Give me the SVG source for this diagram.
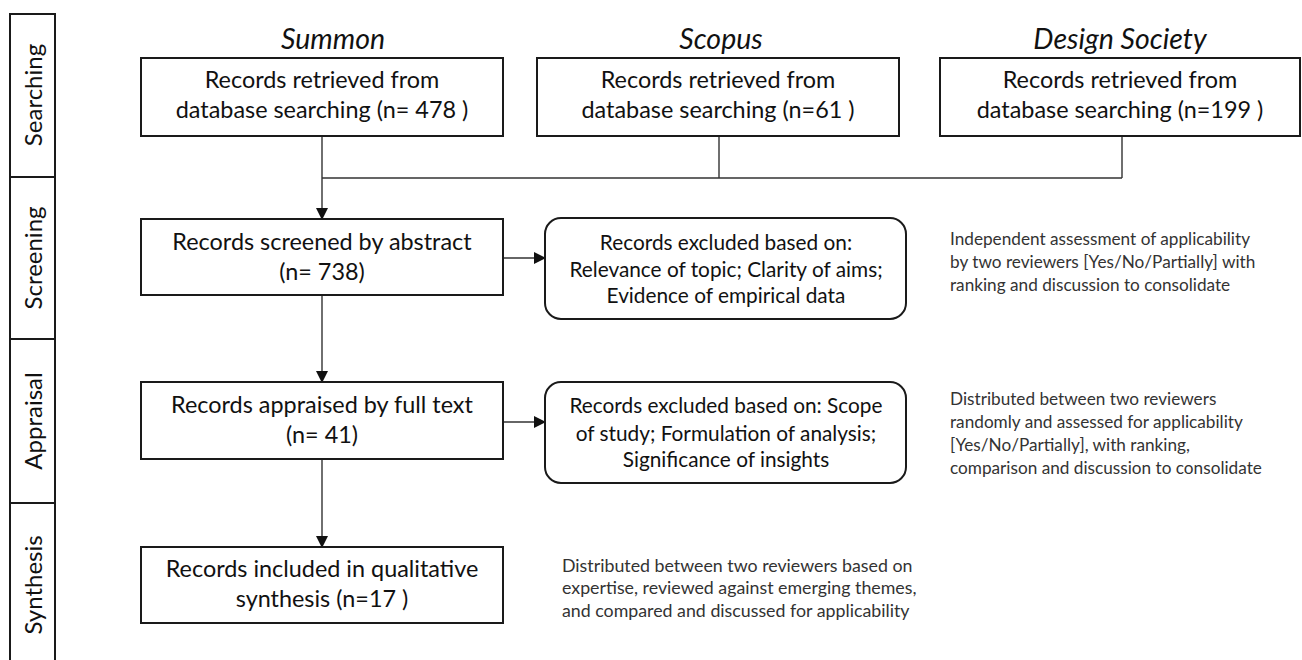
<svg xmlns="http://www.w3.org/2000/svg" width="1302" height="660" viewBox="0 0 1302 660">
<style>
  .box { fill: #fff; stroke: #1a1a1a; stroke-width: 2; }
  .main { font-family: Lato, "Liberation Sans", sans-serif; font-size: 23.4px; fill: #111; text-anchor: middle; }
  .excl { font-family: Lato, "Liberation Sans", sans-serif; font-size: 20.8px; fill: #111; text-anchor: middle; }
  .note { font-family: Lato, "Liberation Sans", sans-serif; font-size: 17.2px; fill: #333; }
  .note3 { font-family: Lato, "Liberation Sans", sans-serif; font-size: 17.8px; fill: #333; }
  .head { font-family: Lato, "Liberation Sans", sans-serif; font-size: 28.5px; font-style: italic; fill: #111; text-anchor: middle; }
  .side { font-family: Lato, "Liberation Sans", sans-serif; font-size: 24px; fill: #111; text-anchor: middle; }
  .conn { fill: none; stroke: #333; stroke-width: 1.4; }
  .lane { fill: none; stroke: #1a1a1a; stroke-width: 2; }
</style>
<defs>
  <marker id="arr" markerWidth="12" markerHeight="12" refX="11" refY="6" orient="auto" markerUnits="userSpaceOnUse">
    <path d="M0,0 L12,6 L0,12 Z" fill="#111"/>
  </marker>
</defs>
<rect width="1302" height="660" fill="#fff"/>

<g id="lanes">
  <path class="lane" d="M10,660 V14 H55 V660 M10,177 H55 M10,339 H55 M10,503 H55"/>
  <text class="side" transform="translate(42,95) rotate(-90)">Searching</text>
  <text class="side" transform="translate(42,258) rotate(-90)">Screening</text>
  <text class="side" transform="translate(42,421) rotate(-90)">Appraisal</text>
  <text class="side" transform="translate(42,585) rotate(-90)">Synthesis</text>
</g>

<g id="headers">
  <text class="head" x="333" y="49">Summon</text>
  <text class="head" x="721" y="49">Scopus</text>
  <text class="head" x="1120" y="49">Design Society</text>
</g>

<g id="connectors">
  <path class="conn" d="M322,136 V219" marker-end="url(#arr)"/>
  <path class="conn" d="M322,178 H1122 M719,136 V178 M1122,136 V178"/>
  <path class="conn" d="M322,295 V382" marker-end="url(#arr)"/>
  <path class="conn" d="M322,459 V547" marker-end="url(#arr)"/>
  <path class="conn" d="M503,258 H545" marker-end="url(#arr)"/>
  <path class="conn" d="M503,422 H545" marker-end="url(#arr)"/>
</g>

<g id="summon">
  <rect class="box" x="141" y="58" width="362" height="78"/>
  <text class="main" x="322" y="88">Records retrieved from</text>
  <text class="main" x="322" y="118">database searching (n= 478 )</text>
</g>
<g id="scopus">
  <rect class="box" x="537" y="58" width="362" height="78"/>
  <text class="main" x="718" y="88">Records retrieved from</text>
  <text class="main" x="718" y="118">database searching (n=61 )</text>
</g>
<g id="designsociety">
  <rect class="box" x="940" y="58" width="360" height="78"/>
  <text class="main" x="1120" y="88">Records retrieved from</text>
  <text class="main" x="1120" y="118">database searching (n=199 )</text>
</g>

<g id="screened">
  <rect class="box" x="141" y="219" width="362" height="76"/>
  <text class="main" x="322" y="250">Records screened by abstract</text>
  <text class="main" x="322" y="280">(n= 738)</text>
</g>
<g id="excluded1">
  <rect class="box" x="545" y="218" width="361" height="101" rx="16"/>
  <text class="excl" x="726" y="250">Records excluded based on:</text>
  <text class="excl" x="726" y="277">Relevance of topic; Clarity of aims;</text>
  <text class="excl" x="726" y="303">Evidence of empirical data</text>
</g>
<g id="note1">
  <text class="note" x="950" y="245">Independent assessment of applicability</text>
  <text class="note" x="950" y="268">by two reviewers [Yes/No/Partially] with</text>
  <text class="note" x="950" y="291">ranking and discussion to consolidate</text>
</g>

<g id="appraised">
  <rect class="box" x="141" y="382" width="362" height="77"/>
  <text class="main" x="322" y="413">Records appraised by full text</text>
  <text class="main" x="322" y="443">(n= 41)</text>
</g>
<g id="excluded2">
  <rect class="box" x="545" y="382" width="361" height="101" rx="16"/>
  <text class="excl" x="726" y="413">Records excluded based on: Scope</text>
  <text class="excl" x="726" y="441">of study; Formulation of analysis;</text>
  <text class="excl" x="726" y="467">Significance of insights</text>
</g>
<g id="note2">
  <text class="note" x="950" y="405">Distributed between two reviewers</text>
  <text class="note" x="950" y="428">randomly and assessed for applicability</text>
  <text class="note" x="950" y="451">[Yes/No/Partially], with ranking,</text>
  <text class="note" x="950" y="474">comparison and discussion to consolidate</text>
</g>

<g id="included">
  <rect class="box" x="141" y="547" width="362" height="76"/>
  <text class="main" x="322" y="577">Records included in qualitative</text>
  <text class="main" x="322" y="607">synthesis (n=17 )</text>
</g>
<g id="note3">
  <text class="note3" x="562" y="572">Distributed between two reviewers based on</text>
  <text class="note3" x="562" y="594">expertise, reviewed against emerging themes,</text>
  <text class="note3" x="562" y="617">and compared and discussed for applicability</text>
</g>
</svg>
